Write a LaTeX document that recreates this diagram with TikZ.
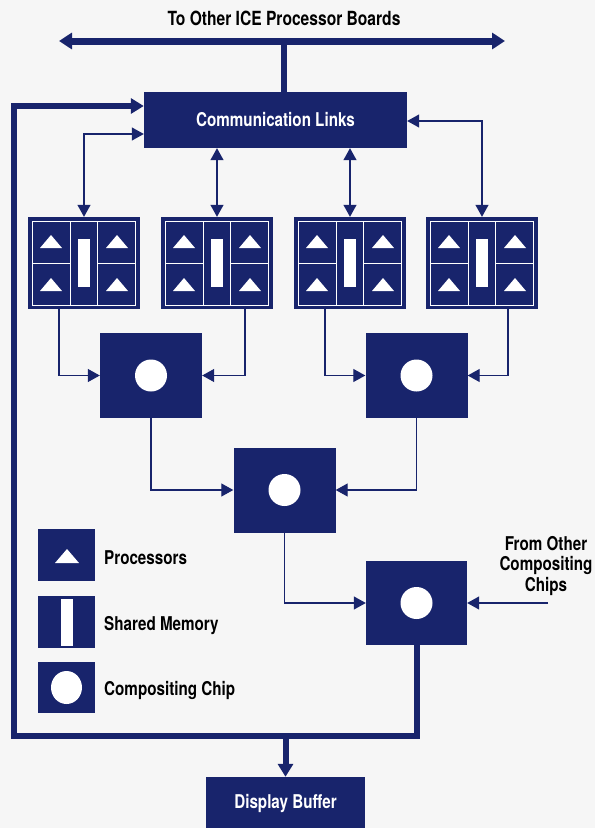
\documentclass[tikz,border=0pt]{standalone}
\usepackage{fontspec}
\setmainfont{TeX Gyre Heros}[FakeStretch=0.8]
\usetikzlibrary{arrows.meta}
\definecolor{navy}{RGB}{24,36,108}
\definecolor{bg}{RGB}{246,246,246}
\begin{document}
\begin{tikzpicture}[x=1pt,y=-1pt,
  lbl/.style={font=\bfseries\fontsize{19}{20.5}\selectfont, text=black, inner sep=0pt},
  blk/.style={fill=navy, inner sep=0pt, text=white, font=\bfseries\fontsize{19}{21}\selectfont},
  boardbox/.style={fill=navy, inner sep=0pt, minimum width=112pt, minimum height=92pt},
  chipbox/.style={fill=navy, inner sep=0pt, minimum width=102pt, minimum height=85pt},
  legbox/.style={fill=navy, inner sep=0pt, minimum width=57pt, minimum height=52pt},
  thinline/.style={draw=navy, line width=1.2pt},
  thickline/.style={draw=navy, line width=6pt, line join=miter},
  thinhead/.style={-{Triangle[length=12pt,width=13pt]}},
  thinboth/.style={{Triangle[length=12pt,width=13pt]}-{Triangle[length=12pt,width=13pt]}},
  thickhead/.style={-{Triangle[length=13pt,width=15pt]}},
  board/.pic={
    \draw[white, line width=0.8pt] (-51.5,-42) rectangle (51.5,42);
    \draw[white, line width=0.8pt] (-13.5,-42) -- (-13.5,42) (13.5,-42) -- (13.5,42)
      (-51.5,0) -- (-13.5,0) (13.5,0) -- (51.5,0);
    \foreach \px in {-33,33}{\foreach \py in {-21.5,21.5}{
      \fill[white] (\px-11,\py+6.5) -- (\px,\py-6.5) -- (\px+11,\py+6.5) -- cycle;}}
    \fill[white] (-6,-24) rectangle (6,24);
  }
]
\fill[bg] (0,0) rectangle (595,828);
\useasboundingbox (0,0) rectangle (595,828);

% title and bus
\node[lbl, font=\bfseries\fontsize{19.5}{21}\selectfont] (title) at (284,18) {To Other ICE Processor Boards};
\coordinate (busL) at (59,41);
\coordinate (busR) at (505,41);
\coordinate (busJ) at (284,41);

% communication links
\node[blk, minimum width=263pt, minimum height=56pt] (comm) at (275.5,120) {Communication Links};
\draw[navy, line width=7pt, {Triangle[length=13pt,width=16pt]}-{Triangle[length=13pt,width=16pt]}] (busL) -- (busR);
\draw[navy, line width=6pt] (busJ) -- (busJ |- comm.north);

% boards
\node[boardbox] (b1) at (84,263) {};
\node[boardbox] (b2) at (217,263) {};
\node[boardbox] (b3) at (350,263) {};
\node[boardbox] (b4) at (482,263) {};
\foreach \b in {b1,b2,b3,b4}{\pic at (\b) {board};}

% compositing chips
\node[chipbox] (cA) at (151,375.5) {};
\node[chipbox] (cB) at (416.5,375.5) {};
\node[chipbox] (cC) at (284.5,490) {};
\node[chipbox, minimum width=101pt, minimum height=84pt] (cD) at (416.5,603) {};
\foreach \c in {cA,cB,cC,cD}{\fill[white] (\c) circle (16);}

% display buffer
\node[blk, minimum width=159pt, minimum height=52pt] (disp) at (285.5,803) {Display Buffer};

% legend
\node[legbox] (lp) at (66.5,555) {};
\fill[white] (55,563) -- (67,549) -- (79,563) -- cycle;
\node[lbl, anchor=west] (tp) at (104,558) {Processors};
\node[legbox] (lm) at (66.5,622) {};
\fill[white] (60.5,599) rectangle (72.5,646);
\node[lbl, anchor=west] (tm) at (104,626) {Shared Memory};
\node[legbox, minimum height=51pt] (lc) at (66.5,687.5) {};
\fill[white] (lc) ellipse (15.5 and 16.5);
\node[lbl, anchor=west] (tc) at (104,690) {Compositing Chip};

% from other compositing chips
\node[lbl, align=center] (from) at (546,566) {From Other\\Compositing\\Chips};
\coordinate (fr) at (548,603);

% thin links comm <-> boards
\draw[thinline, thinboth] (b1.north) |- (comm.west |- 0,134);
\draw[thinline, thinboth] (b2.north) -- (b2.north |- comm.south);
\draw[thinline, thinboth] (b3.north) -- (b3.north |- comm.south);
\draw[thinline, thinboth] (b4.north) |- (comm.east |- 0,121);

% boards -> chips
\draw[thinline, thinhead] ([xshift=-25pt]b1.south) |- (cA.west);
\draw[thinline, thinhead] ([xshift=28pt]b2.south) |- (cA.east);
\draw[thinline, thinhead] ([xshift=-25pt]b3.south) |- (cB.west);
\draw[thinline, thinhead] ([xshift=26pt]b4.south) |- (cB.east);
\draw[thinline, thinhead] (cA.south) |- (cC.west);
\draw[thinline, thinhead] (cB.south) |- (cC.east);
\draw[thinline, thinhead] (cC.south) |- (cD.west);
\draw[thinline, thinhead] (fr) -- (cD.east);

% thick feedback loop
\coordinate (lb) at (14,736);
\coordinate (lt) at (14,106);
\draw[thickline, thickhead] (cD.south) -- (cD.south |- lb) -- (lb) -- (lt) -- (lt -| comm.west);
\draw[thickline, thickhead] (disp.north |- lb) -- (disp.north);
\end{tikzpicture}
\end{document}
